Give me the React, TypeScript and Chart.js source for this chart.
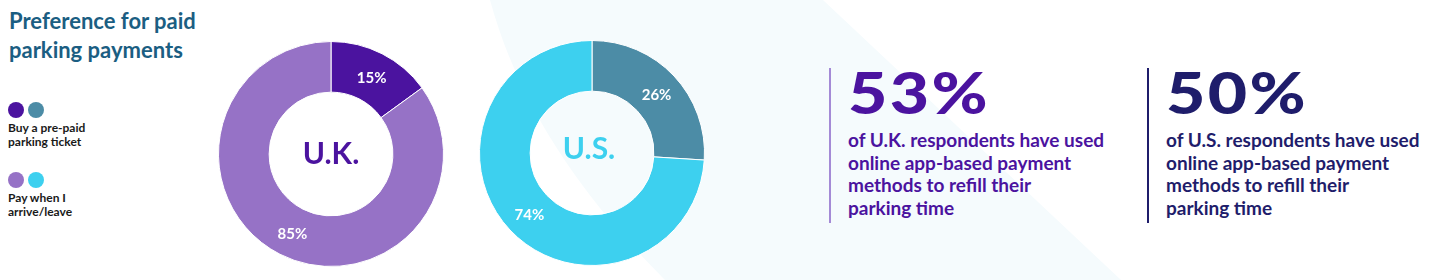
import React, { useEffect, useRef } from "react";
import { Chart, registerables } from "chart.js";

Chart.register(...registerables);

const countries = ["U.K.", "U.S."];
const categories = ["Buy a pre-paid parking ticket", "Pay when I arrive/leave"];
const legendLines = [["Buy a pre-paid", "parking ticket"], ["Pay when I", "arrive/leave"]];
const ukValues = [15, 85];
const usValues = [26, 74];
const appUsage = [53, 50];
const appUsageText = [
  ["of U.K. respondents have used", "online app-based payment", "methods to refill their", "parking time"],
  ["of U.S. respondents have used", "online app-based payment", "methods to refill their", "parking time"],
];

const ukColors = ["#4B139F", "#9672C6"];
const usColors = ["#4C8CA6", "#3DD0EF"];
const statColors = ["#4B139F", "#1F1D6B"];
const statLineColors = ["#A48AD6", "#1F1D6B"];
const FONT = "Lato, 'Noto Sans', sans-serif";

function Donut({ values, colors, label, labelColor, labelDx, labelDy, left, top, size }) {
  const ref = useRef(null);
  useEffect(() => {
    const labelPlugin = {
      id: "lbl",
      afterDatasetsDraw(chart) {
        const ctx = chart.ctx;
        const meta = chart.getDatasetMeta(0);
        ctx.save();
        ctx.textAlign = "center";
        ctx.textBaseline = "middle";
        ctx.fillStyle = "#ffffff";
        ctx.font = `bold 15px ${FONT}`;
        meta.data.forEach((arc, i) => {
          const p = arc.tooltipPosition();
          ctx.fillText(values[i] + "%", p.x + 1, p.y + 2);
        });
        const a = meta.data[0];
        ctx.fillStyle = labelColor;
        ctx.font = `bold 30px ${FONT}`;
        ctx.fillText(label, a.x + labelDx, a.y + labelDy);
        ctx.restore();
      },
    };
    const chart = new Chart(ref.current, {
      type: "doughnut",
      data: {
        labels: categories,
        datasets: [
          {
            data: values,
            backgroundColor: colors,
            borderColor: "#ffffff",
            borderWidth: 1,
            hoverOffset: 0,
          },
        ],
      },
      options: {
        responsive: false,
        maintainAspectRatio: false,
        animation: false,
        cutout: "55%",
        layout: { padding: 0 },
        plugins: { legend: { display: false }, tooltip: { enabled: false } },
        events: [],
      },
      plugins: [labelPlugin],
    });
    return () => chart.destroy();
  }, []);
  return (
    <canvas
      ref={ref}
      width={size}
      height={size}
      style={{ position: "absolute", left, top, width: size, height: size }}
    />
  );
}

function Stat({ value, lines, color, lineColor, left }) {
  return (
    <div style={{ position: "absolute", left, top: 68, height: 155 }}>
      <div
        style={{
          position: "absolute",
          left: 0,
          top: 0,
          width: 2,
          height: 155,
          background: lineColor,
        }}
      />
      <div
        style={{
          position: "absolute",
          left: 19,
          top: -12,
          fontFamily: FONT,
          fontWeight: 900,
          fontSize: 58,
          lineHeight: "72px",
          letterSpacing: 2,
          color,
          whiteSpace: "nowrap",
          transform: "scaleX(1.17)",
          transformOrigin: "0 0",
        }}
      >
        {value}%
      </div>
      <div
        style={{
          position: "absolute",
          left: 19,
          top: 61,
          fontFamily: FONT,
          fontWeight: 700,
          fontSize: 19,
          lineHeight: "22.7px",
          color,
          whiteSpace: "nowrap",
        }}
      >
        {lines.map((l, i) => (
          <div key={i}>{l}</div>
        ))}
      </div>
    </div>
  );
}

export default function App() {
  return (
    <div
      style={{
        position: "absolute",
        left: 0,
        top: 0,
        width: 1442,
        height: 280,
        overflow: "hidden",
        background: "#ffffff",
      }}
    >
      <svg width={1442} height={280} style={{ position: "absolute", left: 0, top: 0 }}>
        <path d="M490,0 L823,0 L1121,280 L665,280 C585,200 520,110 490,0 Z" fill="#F5FBFD" />
      </svg>
      <div
        style={{
          position: "absolute",
          left: 9,
          top: 6,
          fontFamily: FONT,
          fontWeight: 700,
          fontSize: 22,
          lineHeight: "29px",
          color: "#1B5E82",
          whiteSpace: "nowrap",
        }}
      >
        <div>Preference for paid</div>
        <div>parking payments</div>
      </div>
      {legendLines.map((lines, i) => (
        <div key={i} style={{ position: "absolute", left: 8, top: i === 0 ? 102 : 172 }}>
          <div style={{ position: "absolute", left: 0, top: 0, width: 16, height: 16, borderRadius: 8, background: ukColors[i] }} />
          <div style={{ position: "absolute", left: 20, top: 0, width: 16, height: 16, borderRadius: 8, background: usColors[i] }} />
          <div
            style={{
              position: "absolute",
              left: 0,
              top: 19,
              fontFamily: FONT,
              fontWeight: 700,
              fontSize: 12,
              lineHeight: "14px",
              color: "#1A1A1A",
              whiteSpace: "nowrap",
            }}
          >
            {lines.map((l, j) => (
              <div key={j}>{l}</div>
            ))}
          </div>
        </div>
      ))}
      <Donut values={ukValues} colors={ukColors} label={countries[0]} labelColor="#4B139F" labelDx={0} labelDy={0} left={218} top={41} size={226} />
      <Donut values={usValues} colors={usColors} label={countries[1]} labelColor="#3DD0EF" labelDx={-3} labelDy={-4} left={479} top={40} size={226} />
      <Stat value={appUsage[0]} lines={appUsageText[0]} color={statColors[0]} lineColor={statLineColors[0]} left={829} />
      <Stat value={appUsage[1]} lines={appUsageText[1]} color={statColors[1]} lineColor={statLineColors[1]} left={1147} />
    </div>
  );
}
